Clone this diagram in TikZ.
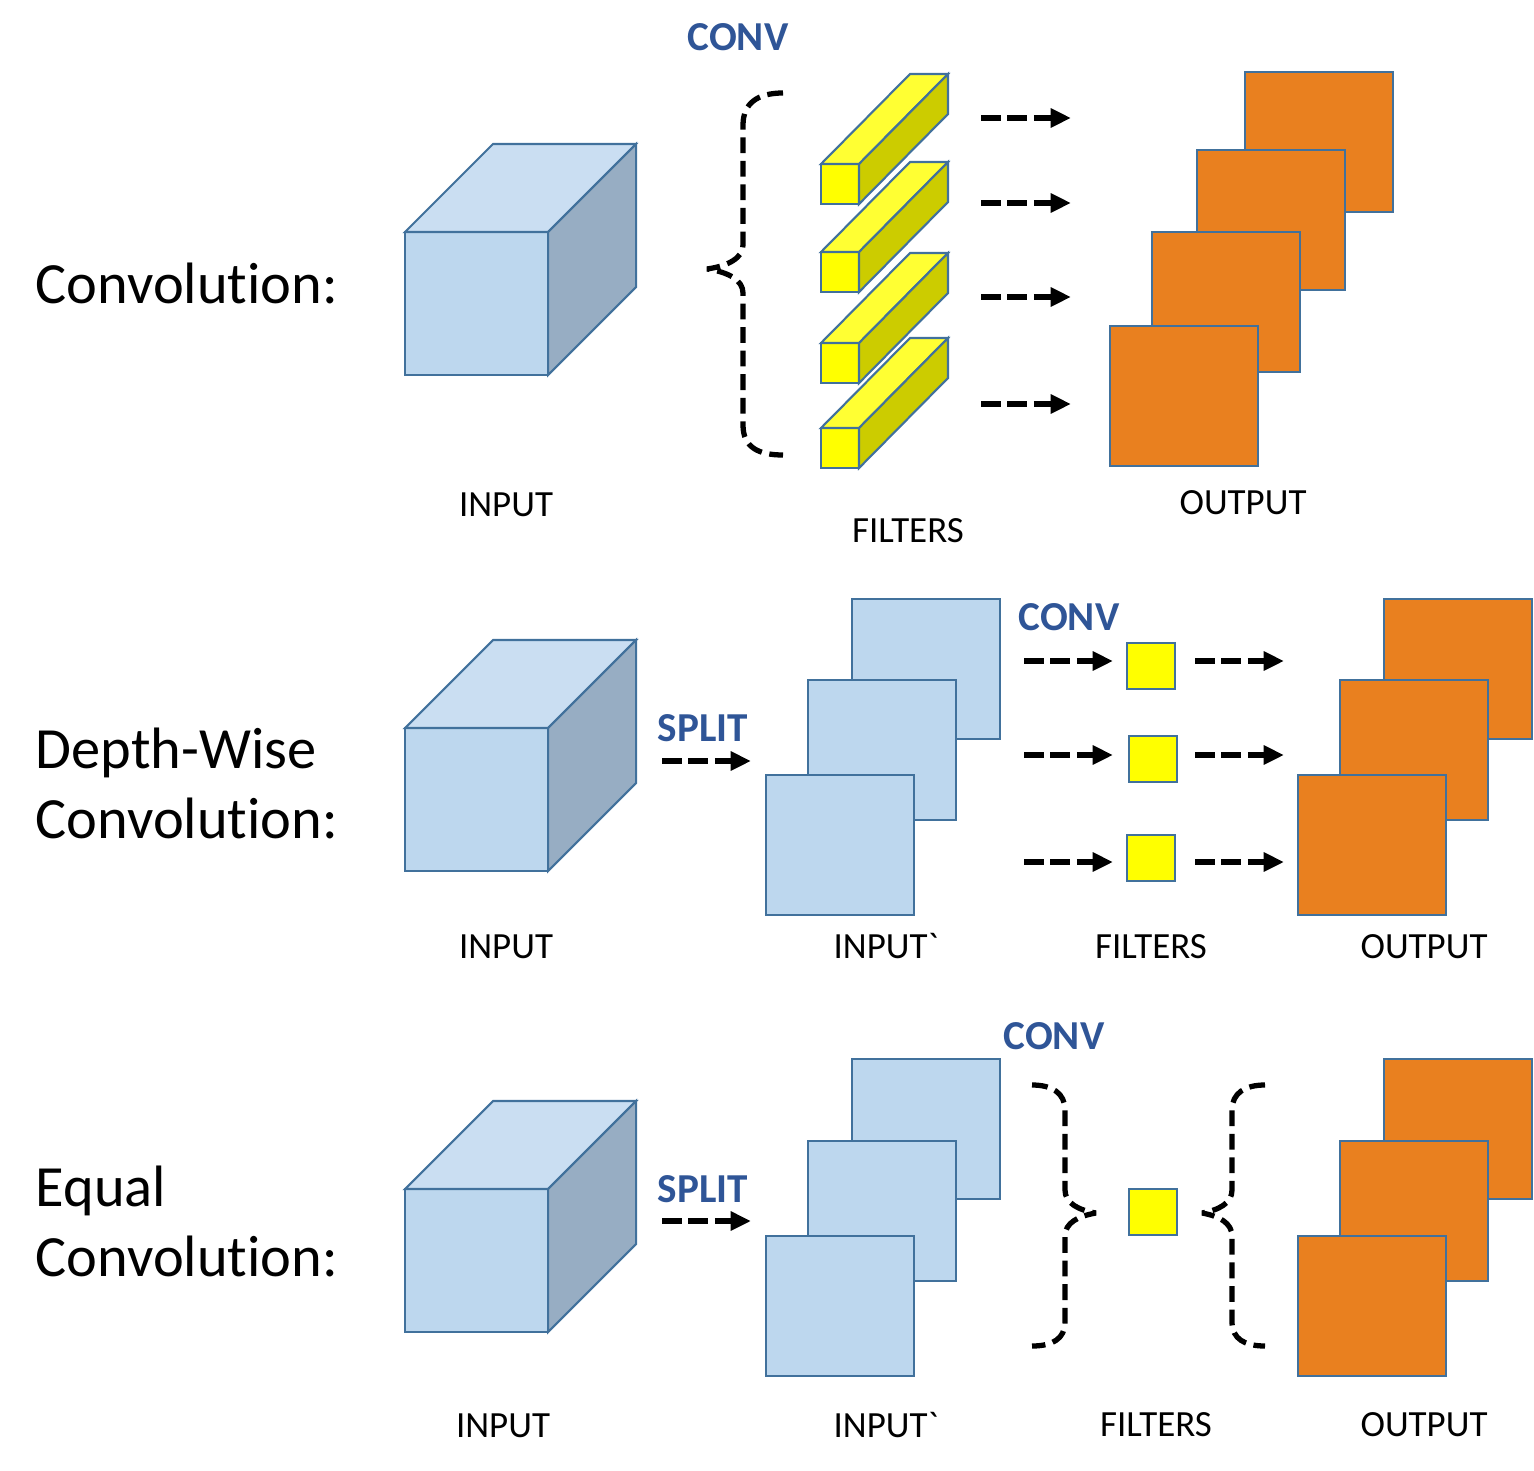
\documentclass[tikz,border=0pt]{standalone}
\usepackage{fontspec}
\setmainfont{Carlito}[Ligatures={TeXOff,CommonOff}]
\usetikzlibrary{arrows.meta}
\definecolor{edgeblue}{HTML}{41719C}
\definecolor{lblue}{HTML}{BDD7EE}
\definecolor{lbluetop}{HTML}{CADEF2}
\definecolor{lblueside}{HTML}{97ADC3}
\definecolor{orng}{HTML}{E9801F}
\definecolor{ylw}{HTML}{FFFF00}
\definecolor{ylwtop}{HTML}{FFFF33}
\definecolor{ylwside}{HTML}{CCCC00}
\definecolor{txtblue}{HTML}{2F5597}
\newcommand\drawcube[3]{%
  \node[cubefront] (#1) at (#2,#3) {};
  \draw[face, fill=lbluetop] (#1.north west) -- ++(88,-88) -- ++(143,0) -- (#1.north east) -- cycle;
  \draw[face, fill=lblueside] (#1.north east) -- ++(88,-88) -- ++(0,143) -- (#1.south east) -- cycle;
}
\newcommand\drawbar[3]{%
  \node[barfront] (#1) at (#2,#3) {};
  \draw[face, fill=ylwtop] (#1.north west) -- ++(89,-90) -- ++(38,0) -- (#1.north east) -- cycle;
  \draw[face, fill=ylwside] (#1.north east) -- ++(89,-90) -- ++(0,40) -- (#1.south east) -- cycle;
}
\begin{document}
\begin{tikzpicture}[x=0.01cm,y=-0.01cm,
 face/.style={draw=edgeblue,line width=0.6pt,line join=miter},
 sq/.style={face, inner sep=0pt, outer sep=0pt, minimum width=1.48cm, minimum height=1.40cm, anchor=north west},
 insq/.style={sq, fill=lblue},
 outsq/.style={sq, fill=orng},
 cubefront/.style={face, fill=lblue, inner sep=0pt, outer sep=0pt, minimum size=1.43cm, anchor=north west},
 fsq/.style={face, fill=ylw, inner sep=0pt, outer sep=0pt, minimum width=0.48cm, minimum height=0.46cm, anchor=north west},
 barfront/.style={face, fill=ylw, inner sep=0pt, outer sep=0pt, minimum width=0.38cm, minimum height=0.40cm, anchor=north west},
 darrow/.style={line width=1.9pt, dash pattern=on 5.6pt off 1.9pt, -{Triangle[length=5.8pt,width=5.2pt]}},
 brace/.style={line width=1.5pt, dash pattern=on 4.5pt off 2.2pt, line join=miter, miter limit=4},
 title/.style={anchor=base west, inner sep=0pt, font=\fontsize{16.6}{19}\selectfont},
 lbl/.style={anchor=base, inner sep=0pt, font=\fontsize{10.5}{12}\selectfont},
 op/.style={anchor=base, inner sep=0pt, text=txtblue, font=\fontsize{11.7}{14}\selectfont\bfseries},
]
\useasboundingbox (0,0) rectangle (1534,1470);

% ---------------- Row 1 ----------------
\node[title] (t1) at (35,304) {Convolution:};
\drawcube{c1}{405}{232}
\node[lbl] (in1) at (506,516) {INPUT};
\node[op] (conv1) at (738,51) {CONV};
\draw[brace] (783,93) .. controls (758,93) and (743,103) .. (743,125) -- (743,245)
  .. controls (743,258) and (728,266) .. (707,269)
  .. controls (728,272) and (743,280) .. (743,293) -- (743,425)
  .. controls (743,447) and (758,455) .. (783,455);
\drawbar{bar1}{821}{164}
\drawbar{bar2}{821}{252}
\drawbar{bar3}{821}{343}
\drawbar{bar4}{821}{428}
\node[lbl] (fl1) at (908,542) {FILTERS};
\foreach \i/\y in {1/118,2/203,3/297,4/404}{
  \coordinate (r1s\i) at (981,\y);
  \coordinate (r1e\i) at (1071,\y);
  \draw[darrow] (r1s\i) -- (r1e\i);
}
\node[outsq] (o1a) at (1245,72) {};
\node[outsq] (o1b) at (1197,150) {};
\node[outsq] (o1c) at (1152,232) {};
\node[outsq] (o1d) at (1110,326) {};
\node[lbl] (out1) at (1243,514) {OUTPUT};

% ---------------- Row 2 ----------------
\node[title] (t2a) at (35,768) {Depth-Wise};
\node[title] (t2b) at (35,838) {Convolution:};
\drawcube{c2}{405}{728}
\node[lbl] (in2) at (506,958) {INPUT};
\node[op] (split2) at (703,741) {SPLIT};
\coordinate (s2s) at (662,761);
\coordinate (s2e) at (751,761);
\draw[darrow] (s2s) -- (s2e);
\node[insq] (i2a) at (852,599) {};
\node[insq] (i2b) at (808,680) {};
\node[insq] (i2c) at (766,775) {};
\node[lbl] (inp2) at (886,958) {INPUT`};
\node[op] (conv2) at (1069,630) {CONV};
\node[fsq] (f2a) at (1127,643) {};
\node[fsq] (f2b) at (1129,736) {};
\node[fsq] (f2c) at (1127,835) {};
\foreach \i/\y in {1/661,2/755,3/862}{
  \coordinate (l2s\i) at (1024,\y);
  \coordinate (l2e\i) at (1113,\y);
  \draw[darrow] (l2s\i) -- (l2e\i);
  \coordinate (m2s\i) at (1195,\y);
  \coordinate (m2e\i) at (1284,\y);
  \draw[darrow] (m2s\i) -- (m2e\i);
}
\node[lbl] (fl2) at (1151,958) {FILTERS};
\node[outsq] (o2a) at (1384,599) {};
\node[outsq] (o2b) at (1340,680) {};
\node[outsq] (o2c) at (1298,775) {};
\node[lbl] (out2) at (1424,958) {OUTPUT};

% ---------------- Row 3 ----------------
\node[title] (t3a) at (35,1206) {Equal};
\node[title] (t3b) at (35,1276) {Convolution:};
\drawcube{c3}{405}{1189}
\node[lbl] (in3) at (503,1437) {INPUT};
\node[op] (split3) at (703,1202) {SPLIT};
\coordinate (s3s) at (662,1221);
\coordinate (s3e) at (751,1221);
\draw[darrow] (s3s) -- (s3e);
\node[insq] (i3a) at (852,1059) {};
\node[insq] (i3b) at (808,1141) {};
\node[insq] (i3c) at (766,1236) {};
\node[lbl] (inp3) at (886,1437) {INPUT`};
\node[op] (conv3) at (1054,1049) {CONV};
\draw[brace] (1032,1085) .. controls (1052,1085) and (1065,1093) .. (1065,1110) -- (1065,1190)
  .. controls (1065,1203) and (1078,1210) .. (1096,1213)
  .. controls (1078,1216) and (1065,1223) .. (1065,1236) -- (1065,1322)
  .. controls (1065,1339) and (1052,1346) .. (1032,1346);
\node[fsq] (f3) at (1129,1189) {};
\draw[brace] (1265,1085) .. controls (1245,1085) and (1232,1093) .. (1232,1110) -- (1232,1190)
  .. controls (1232,1203) and (1219,1210) .. (1202,1213)
  .. controls (1219,1216) and (1232,1223) .. (1232,1236) -- (1232,1322)
  .. controls (1232,1339) and (1245,1346) .. (1265,1346);
\node[lbl] (fl3) at (1156,1436) {FILTERS};
\node[outsq] (o3a) at (1384,1059) {};
\node[outsq] (o3b) at (1340,1141) {};
\node[outsq] (o3c) at (1298,1236) {};
\node[lbl] (out3) at (1424,1436) {OUTPUT};
\end{tikzpicture}
\end{document}
